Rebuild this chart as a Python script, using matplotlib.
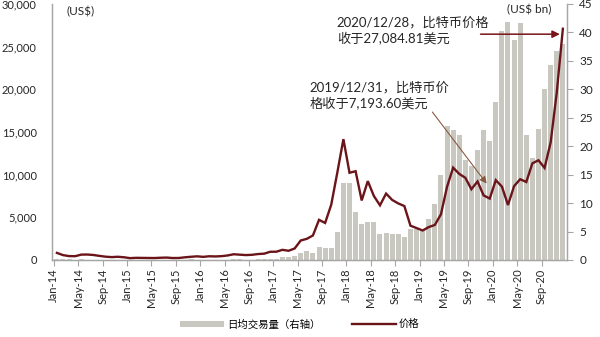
import matplotlib
matplotlib.use("Agg")
import matplotlib.pyplot as plt
import numpy as np
from matplotlib.ticker import FuncFormatter, MultipleLocator

plt.rcParams["font.family"] = ["Lato", "Noto Sans CJK SC", "DejaVu Sans"]

# ── data ─────────────────────────────────────────────────────────────────────
months = [f"{m}-{y:02d}" for y in range(14, 21)
          for m in ["Jan", "Feb", "Mar", "Apr", "May", "Jun",
                    "Jul", "Aug", "Sep", "Oct", "Nov", "Dec"]]

# month-end price, US$
price = [832, 573, 457, 448, 630, 640, 586, 478, 386, 338, 378, 320,
         217, 254, 244, 236, 230, 263, 284, 230, 236, 314, 377, 430,
         368, 437, 416, 448, 531, 673, 624, 575, 609, 698, 742, 963,
         970, 1190, 1079, 1348, 2286, 2480, 2875, 4703, 4338, 6468, 10233, 14156,
         10221, 10397, 6973, 9240, 7494, 6404, 7780, 7037, 6625, 6318, 4017, 3742,
         3457, 3854, 4105, 5350, 8574, 10817, 10085, 9630, 8293, 9199, 7569, 7194,
         9350, 8600, 6438, 8658, 9461, 9137, 11323, 11681, 10784, 13781, 19625, 27085]

# daily average trading volume, US$ bn (right axis)
volume = [0.15, 0.12, 0.10, 0.08, 0.10, 0.08, 0.06, 0.06, 0.05, 0.05, 0.05, 0.04,
          0.06, 0.05, 0.04, 0.04, 0.03, 0.03, 0.04, 0.05, 0.04, 0.06, 0.10, 0.08,
          0.06, 0.05, 0.04, 0.05, 0.07, 0.12, 0.10, 0.08, 0.07, 0.09, 0.11, 0.13,
          0.25, 0.47, 0.59, 0.71, 1.3, 1.65, 1.2, 2.2, 2.1, 2.1, 5.0, 13.5,
          13.6, 8.35, 6.35, 6.6, 6.6, 4.5, 4.8, 4.5, 4.5, 4.0, 5.5, 5.4,
          5.3, 7.2, 9.8, 15.0, 23.5, 22.8, 22.0, 17.6, 16.5, 19.4, 22.8, 20.9,
          27.7, 40.3, 41.9, 38.7, 41.7, 22.0, 17.9, 23.1, 30.1, 34.2, 36.7, 38.0]

tick_labels = months[::4]

# ── colours ──────────────────────────────────────────────────────────────────
C_LINE = "#6B1419"
C_BAR = "#C9C8C0"
C_AXIS = "#A6A6A6"
C_TEXT = "#262626"

fig = plt.figure(figsize=(6.0, 3.37), dpi=100)
ax = fig.add_axes([0.0867, 0.2285, 0.858, 0.76])
ax2 = ax.twinx()

x = np.arange(len(months)) + 0.5

ax2.bar(x, volume, width=0.82, color=C_BAR, linewidth=0, zorder=1)
ax.plot(x, price, color=C_LINE, lw=1.7, zorder=3, solid_joinstyle="miter")

ax.set_zorder(ax2.get_zorder() + 1)
ax.patch.set_visible(False)

ax.set_xlim(-0.3, 84.15)
ax.set_ylim(0, 30000)
ax2.set_ylim(0, 45)

ax.yaxis.set_major_locator(MultipleLocator(5000))
ax.yaxis.set_major_formatter(FuncFormatter(lambda v, p: f"{int(v):,}"))
ax2.yaxis.set_major_locator(MultipleLocator(5))

ax.set_xticks(np.arange(0, len(months), 4))
ax.set_xticklabels(tick_labels, rotation=90, fontsize=8, color=C_TEXT)

ax.tick_params(axis="y", length=0, pad=11, labelsize=8, colors=C_TEXT)
ax.tick_params(axis="x", length=4, width=0.8, color=C_AXIS, pad=2)
ax2.tick_params(axis="y", length=4, width=0.8, color=C_AXIS, pad=5,
                labelsize=8.5, labelcolor=C_TEXT)

for a in (ax, ax2):
    a.spines["top"].set_visible(False)
    for s in ("left", "right", "bottom"):
        a.spines[s].set_color(C_AXIS)
        a.spines[s].set_linewidth(0.9)

# ── unit labels ──────────────────────────────────────────────────────────────
ax.text(4.4, 29100, "(US$)", ha="center", va="center", fontsize=8.5, color=C_TEXT)
ax.text(77.9, 29300, "(US$ bn)", ha="center", va="center", fontsize=8.5, color=C_TEXT)

# ── annotations ──────────────────────────────────────────────────────────────
ax.text(46.4, 28600, "2020/12/28，比特币价格\n收于27,084.81美元",
        ha="left", va="top", fontsize=9.5, linespacing=1.3, color=C_TEXT)
ax.annotate("", xy=(83.0, 26450), xytext=(70.0, 26450),
            arrowprops=dict(arrowstyle="-|>", color="#7A1418", lw=1.1,
                            mutation_scale=11, shrinkA=0, shrinkB=0))

ax.text(42.0, 21000, "2019/12/31，比特币价\n格收于7,193.60美元",
        ha="left", va="top", fontsize=9.5, linespacing=1.3, color=C_TEXT)
ax.annotate("", xy=(71.0, 8950), xytext=(62.1, 17330),
            arrowprops=dict(arrowstyle="-|>", color="#8A5A40", lw=0.8,
                            mutation_scale=10, shrinkA=0, shrinkB=0))

# ── legend ───────────────────────────────────────────────────────────────────
h_bar = plt.Rectangle((0, 0), 1, 1, facecolor=C_BAR, edgecolor="none")
h_line = plt.Line2D([0], [0], color=C_LINE, lw=1.7)
fig.legend([h_bar, h_line], ["日均交易量（右轴）", "价格"],
           loc="center", bbox_to_anchor=(0.5, 0.038), ncol=2, frameon=False,
           fontsize=7.5, handlelength=4.2, handleheight=0.5,
           columnspacing=3.0, handletextpad=0.3)

fig.savefig("out.png", dpi=100, facecolor="white")
plt.close(fig)
